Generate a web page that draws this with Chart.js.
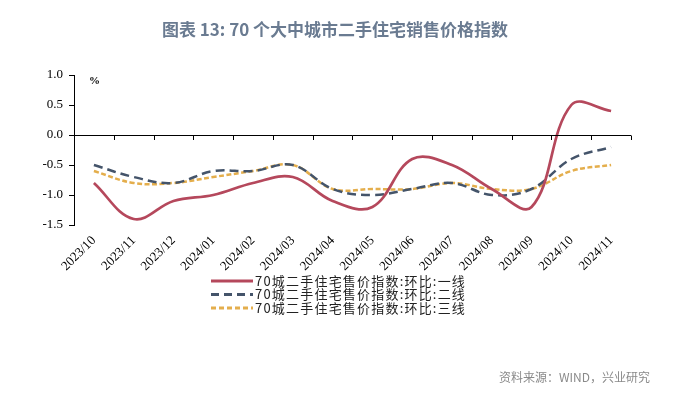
<!DOCTYPE html>
<html>
<head>
<meta charset="utf-8">
<script src="https://cdn.jsdelivr.net/npm/chart.js@4/dist/chart.umd.min.js"></script>
<style>
html,body{margin:0;padding:0;background:#fff;}
#wrap{width:687px;height:397px;position:relative;}
</style>
</head>
<body>
<div id="wrap"><canvas id="c" width="687" height="397"></canvas></div>
<script>
const categories = ['2023/10','2023/11','2023/12','2024/01','2024/02','2024/03','2024/04','2024/05','2024/06','2024/07','2024/08','2024/09','2024/10','2024/11'];
const tier1 = [-0.8,-1.4,-1.1,-1.0,-0.8,-0.7,-1.1,-1.2,-0.4,-0.5,-0.9,-1.2,0.5,0.4];
const tier2 = [-0.5,-0.7,-0.8,-0.6,-0.6,-0.5,-0.9,-1.0,-0.9,-0.8,-1.0,-0.9,-0.4,-0.2];
const tier3 = [-0.6,-0.8,-0.8,-0.7,-0.6,-0.5,-0.9,-0.9,-0.9,-0.8,-0.9,-0.9,-0.6,-0.5];
const seriesNames = ['70城二手住宅售价指数:环比:一线','70城二手住宅售价指数:环比:二线','70城二手住宅售价指数:环比:三线'];
const yTicks = [1.0,0.5,0.0,-0.5,-1.0,-1.5];
const titleText = '图表 13: 70 个大中城市二手住宅销售价格指数';
const sourceText = '资料来源：WIND，兴业研究';
const unitText = '%';

const extras = {
  id: 'extras',
  afterDraw(chart) {
    const ctx = chart.ctx;
    const xs = chart.scales.x, ys = chart.scales.y;
    const area = chart.chartArea;
    const y0 = ys.getPixelForValue(0);
    ctx.save();
    // title
    ctx.fillStyle = '#6a7b91';
    ctx.font = 'bold 17px "Noto Sans CJK SC"';
    ctx.textAlign = 'center';
    ctx.textBaseline = 'middle';
    ctx.fillText(titleText, 335, 30);
    // zero axis line with ticks
    ctx.strokeStyle = '#000';
    ctx.lineWidth = 1;
    ctx.beginPath();
    ctx.moveTo(area.left, Math.round(y0) + 0.5);
    ctx.lineTo(area.right, Math.round(y0) + 0.5);
    const step = xs.getPixelForValue(1) - xs.getPixelForValue(0);
    for (let i = 0; i <= categories.length; i++) {
      const x = Math.round(xs.getPixelForValue(0) - step / 2 + i * step) + 0.5;
      ctx.moveTo(x, Math.round(y0) + 0.5);
      ctx.lineTo(x, Math.round(y0) + 5);
    }
    ctx.stroke();
    // unit
    ctx.fillStyle = '#000';
    ctx.font = 'bold 11px "Liberation Serif"';
    ctx.textAlign = 'left';
    ctx.textBaseline = 'middle';
    ctx.fillText(unitText, area.left + 15, area.top + 6);
    // legend
    const lx = 211, ly = 281, lh = 13.5;
    chart.data.datasets.forEach((ds, i) => {
      const y = ly + i * lh;
      ctx.beginPath();
      ctx.strokeStyle = ds.borderColor;
      ctx.lineWidth = 3;
      ctx.setLineDash(ds.legendDash || []);
      ctx.moveTo(lx, y);
      ctx.lineTo(lx + 42, y);
      ctx.stroke();
      ctx.setLineDash([]);
      ctx.fillStyle = '#222';
      ctx.font = '13px "Noto Sans CJK SC"';
      ctx.letterSpacing = '1.2px';
      ctx.textBaseline = 'middle';
      ctx.fillText(ds.label, lx + 44, y);
      ctx.letterSpacing = '0px';
    });
    // source
    ctx.fillStyle = '#8a8a8a';
    ctx.font = '12px "Noto Sans CJK SC"';
    ctx.textAlign = 'right';
    ctx.textBaseline = 'middle';
    ctx.fillText(sourceText, 650, 377);
    ctx.restore();
  }
};

new Chart(document.getElementById('c'), {
  type: 'line',
  data: {
    labels: categories,
    datasets: [
      { label: seriesNames[0], data: tier1, borderColor: '#b5485c', borderWidth: 2.7, tension: 0.38, pointRadius: 0, fill: false, legendDash: [] },
      { label: seriesNames[1], data: tier2, borderColor: '#44546a', borderWidth: 2.5, borderDash: [9, 5], tension: 0.38, pointRadius: 0, fill: false, legendDash: [8, 5] },
      { label: seriesNames[2], data: tier3, borderColor: '#e4ae4c', borderWidth: 2.5, borderDash: [5, 2.5], tension: 0.38, pointRadius: 0, fill: false, legendDash: [5, 3] }
    ]
  },
  options: {
    responsive: false,
    animation: false,
    layout: { padding: { left: 0, right: 56, top: 75, bottom: 0 } },
    plugins: {
      legend: { display: false },
      tooltip: { enabled: false },
      title: { display: false }
    },
    scales: {
      x: {
        offset: true,
        grid: { display: false, drawTicks: false },
        border: { display: false },
        ticks: {
          color: '#000',
          font: { family: '"Liberation Serif"', size: 13 },
          maxRotation: 45, minRotation: 45, padding: 8, autoSkip: false
        },
        afterFit(s) { s.height = 172; }
      },
      y: {
        min: -1.5, max: 1.0,
        afterBuildTicks(s) { s.ticks = yTicks.map(v => ({ value: v })); },
        grid: { drawOnChartArea: false, drawTicks: true, tickLength: 5, color: '#000' },
        border: { display: true, color: '#000', width: 1 },
        ticks: {
          color: '#000',
          font: { family: '"Liberation Serif"', size: 13 },
          padding: 6,
          callback: v => Number(v).toFixed(1)
        },
        afterFit(s) { s.width = 74; }
      }
    }
  },
  plugins: [extras]
});
</script>
</body>
</html>
